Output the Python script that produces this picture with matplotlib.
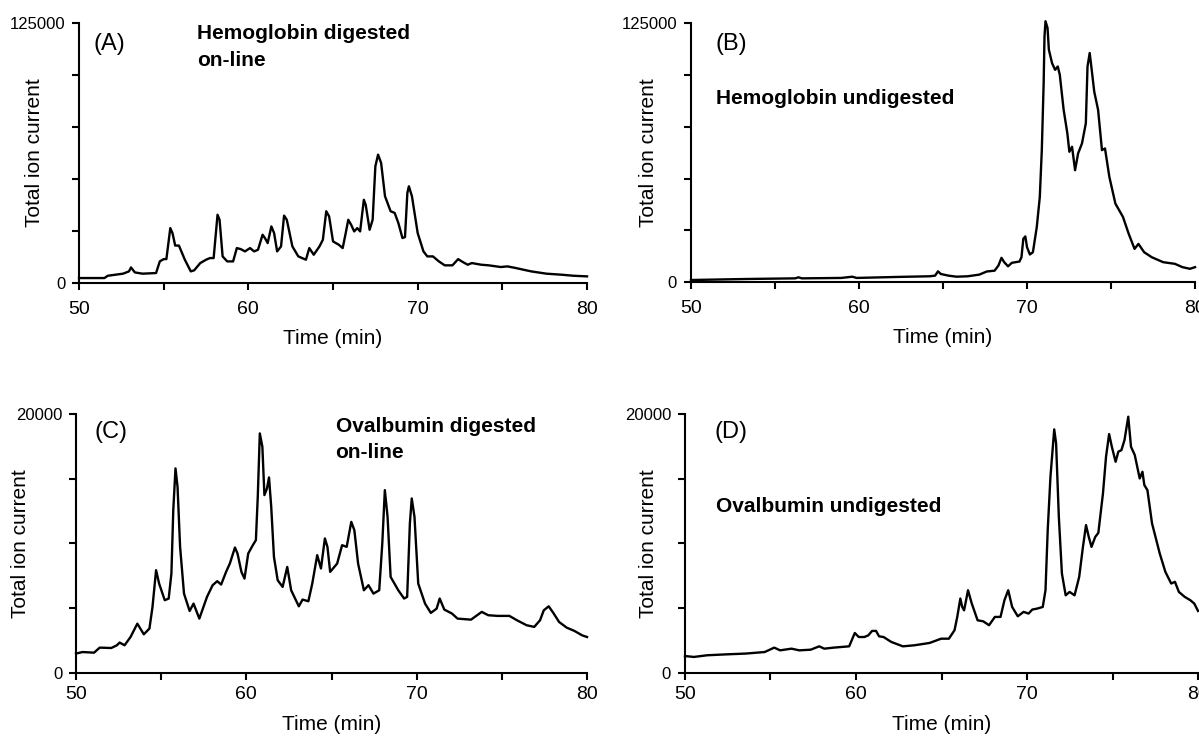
import matplotlib
matplotlib.use("Agg")
import matplotlib.pyplot as plt
from matplotlib.ticker import FixedLocator

plt.rcParams['font.family'] = ['Liberation Sans', 'DejaVu Sans']

# (A) hemoglobin digested on-line
t_a = [50, 51.5, 51.7, 52.6, 52.95, 53.07, 53.3, 53.75, 54.55, 54.77, 55.0, 55.16, 55.39, 55.52,
       55.68, 55.9, 56.25, 56.6, 56.8, 57.16, 57.5, 57.73, 57.95, 58.18, 58.3, 58.48, 58.75, 59.1,
       59.32, 59.55, 59.8, 60.1, 60.34, 60.57, 60.84, 60.98, 61.14, 61.36, 61.52, 61.7, 61.93,
       62.11, 62.27, 62.6, 62.95, 63.4, 63.6, 63.86, 64.2, 64.4, 64.6, 64.77, 65.0, 65.34, 65.57,
       65.75, 65.9, 66.07, 66.25, 66.43, 66.6, 66.82, 66.93, 67.16, 67.34, 67.5, 67.66, 67.84,
       68.07, 68.4, 68.64, 68.86, 69.1, 69.25, 69.39, 69.48, 69.66, 70.0, 70.34, 70.57, 70.9,
       71.25, 71.6, 72.05, 72.39, 72.6, 72.95, 73.2, 73.75, 74.2, 74.9, 75.3, 75.8, 76.7, 77.6,
       78.5, 79.2, 80]
tic_a = [2400, 2400, 3500, 4500, 5600, 7500, 5100, 4500, 4800, 10400, 11500, 11500, 26400, 24000,
         18000, 18000, 11200, 5600, 6100, 9600, 11200, 12000, 12000, 32800, 30400, 12800, 10400, 10400,
         16800, 16300, 15200, 16800, 15200, 16000, 23200, 21600, 19200, 27200, 24000, 15200, 17600,
         32400, 30400, 17600, 12800, 11200, 16800, 13600, 17600, 20800, 34500, 32000, 20000, 18400, 16800,
         24000, 30400, 28000, 24800, 26400, 24800, 40000, 37600, 25600, 30400, 56100, 61700, 57700,
         41700, 34500, 33700, 28800, 21600, 22100, 43300, 46500, 41700, 24000, 15200, 12800, 12800,
         10400, 8500, 8500, 11500, 10400, 8800, 9600, 8800, 8500, 7700, 8000, 7200, 5600, 4500,
         4000, 3500, 3200]

# (B) hemoglobin undigested
t_b = [50, 53.35, 56.2, 56.4, 56.6, 58.95, 59.6, 59.86, 62.37, 64.2, 64.53, 64.7, 64.87, 65.33,
       65.8, 66.47, 67.16, 67.6, 68.07, 68.3, 68.48, 68.64, 68.87, 69.1, 69.55, 69.67, 69.78, 69.9,
       70.0, 70.17, 70.35, 70.58, 70.76, 70.88, 70.99, 71.04, 71.1, 71.22, 71.3, 71.49, 71.67,
       71.83, 71.95, 72.18, 72.4, 72.52, 72.68, 72.86, 73.04, 73.27, 73.5, 73.6, 73.73, 73.85,
       74.0, 74.23, 74.46, 74.64, 74.9, 75.26, 75.71, 76.05, 76.4, 76.63, 76.97, 77.42, 78.1,
       78.8, 79.25, 79.7, 80]
tic_b = [1100, 1600, 1900, 2400, 1900, 2100, 2700, 2100, 2600, 2900, 3200, 5300, 4000, 3200,
         2700, 2900, 3700, 5200, 5600, 8100, 11800, 9700, 7700, 9400, 10000, 12100, 21000, 22100,
         16900, 13400, 14500, 26600, 41100, 63700, 96000, 118500, 125800, 122600, 112100, 105600, 102400,
         104000, 100000, 83100, 71800, 62900, 65300, 54000, 62100, 66900, 76600, 104000, 110500, 102400,
         91900, 83100, 63700, 64500, 50800, 37900, 31500, 23400, 16100, 18500, 14500, 12100, 9700,
         8900, 7300, 6500, 7300]

# (C) ovalbumin digested on-line
t_c = [50, 50.38, 51.06, 51.39, 52.07, 52.4, 52.56, 52.85, 53.2, 53.6, 53.98, 54.31, 54.49, 54.7,
       54.88, 55.21, 55.44, 55.6, 55.71, 55.84, 55.96, 56.11, 56.34, 56.67, 56.9, 57.24, 57.69,
       58.02, 58.29, 58.52, 58.81, 59.03, 59.33, 59.48, 59.71, 59.89, 60.11, 60.38, 60.56, 60.67,
       60.79, 60.94, 61.06, 61.21, 61.33, 61.46, 61.62, 61.84, 62.13, 62.4, 62.63, 63.08, 63.3,
       63.64, 63.87, 64.16, 64.38, 64.61, 64.76, 64.92, 65.33, 65.62, 65.89, 66.16, 66.34, 66.56,
       66.9, 67.17, 67.46, 67.8, 67.98, 68.13, 68.29, 68.47, 68.92, 69.26, 69.44, 69.6, 69.71,
       69.87, 70.09, 70.49, 70.83, 71.17, 71.35, 71.62, 72.07, 72.4, 73.19, 73.82, 74.2, 74.76,
       75.44, 75.89, 76.45, 76.9, 77.24, 77.46, 77.75, 78.02, 78.36, 78.81, 79.26, 79.71, 80]
tic_c = [1500, 1620, 1570, 1960, 1930, 2140, 2350, 2140, 2780, 3810, 2990, 3430, 5100, 7940,
         6900, 5620, 5750, 7680, 12580, 15800, 14380, 9740, 6130, 4790, 5360, 4200, 5880,
         6780, 7090, 6830, 7810, 8450, 9690, 9230, 7810, 7290, 9230, 9870, 10260, 13610,
         18500, 17470, 13740, 14250, 15100, 12830, 8970, 7160, 6650, 8190, 6390, 5150, 5670,
         5540, 6910, 9100, 8070, 10390, 9740, 7810, 8450, 9870, 9740, 11670, 11030, 8450,
         6390, 6780, 6130, 6390, 10000, 14120, 12060, 7420, 6390, 5750, 5880, 11550, 13480,
         12060, 6910, 5360, 4640, 4970, 5750, 4900, 4590, 4200, 4120, 4720, 4460, 4410,
         4410, 4070, 3690, 3560, 4070, 4840, 5150, 4640, 3940, 3500, 3250, 2910, 2780]

# (D) ovalbumin undigested
t_d = [50, 50.52, 51.3, 52.42, 53.54, 54.66, 55.22, 55.56, 56.23, 56.68, 57.35, 57.85, 58.14,
       58.7, 59.6, 59.93, 60.16, 60.49, 60.72, 60.94, 61.17, 61.35, 61.61, 62.06, 62.74, 63.41,
       64.3, 64.98, 65.43, 65.76, 65.92, 66.1, 66.21, 66.32, 66.55, 66.77, 67.11, 67.44, 67.78,
       68.12, 68.45, 68.68, 68.9, 69.13, 69.46, 69.8, 70.09, 70.31, 70.58, 70.92, 71.08, 71.21,
       71.37, 71.59, 71.7, 71.86, 72.04, 72.26, 72.49, 72.78, 73.05, 73.27, 73.45, 73.61, 73.77,
       73.99, 74.17, 74.44, 74.62, 74.8, 74.96, 75.18, 75.34, 75.52, 75.7, 75.92, 76.08, 76.3,
       76.59, 76.75, 76.86, 77.04, 77.31, 77.76, 78.09, 78.43, 78.65, 78.88, 79.22, 79.55, 79.78, 80]
tic_d = [1310, 1240, 1370, 1440, 1500, 1620, 1960, 1750, 1880, 1750, 1800, 2060, 1880,
         1960, 2060, 3090, 2780, 2780, 2910, 3250, 3250, 2830, 2780, 2400, 2060, 2140,
         2320, 2650, 2650, 3300, 4330, 5750, 5100, 4840, 6390, 5360, 4070, 3990, 3690,
         4330, 4330, 5620, 6390, 5100, 4380, 4720, 4590, 4900, 4970, 5100, 6390, 11030,
         15150, 18810, 17730, 12060, 7680, 6000, 6260, 6000, 7420, 9740, 11420, 10510, 9740,
         10510, 10820, 13860, 16700, 18450, 17470, 16310, 17090, 17210, 17990, 19790, 17470, 16830,
         15020, 15540, 14510, 14120, 11550, 9230, 7810, 6910, 7040, 6260, 5880, 5620, 5360, 4790]

panels = [
    ("(A)", "Hemoglobin digested\non-line", t_a, tic_a, 125000, 25000),
    ("(B)", "Hemoglobin undigested", t_b, tic_b, 125000, 25000),
    ("(C)", "Ovalbumin digested\non-line", t_c, tic_c, 20000, 5000),
    ("(D)", "Ovalbumin undigested", t_d, tic_d, 20000, 5000),
]

# axes boxes in figure fractions
boxes = [
    [0.0659, 0.617, 0.4237, 0.352],
    [0.5763, 0.618, 0.4204, 0.351],
    [0.0634, 0.0893, 0.4262, 0.3505],
    [0.5713, 0.0893, 0.4279, 0.3505],
]
# where the panel letter and the note sit (axes fractions)
letter_pos = [(0.028, 0.92), (0.048, 0.92), (0.036, 0.93), (0.058, 0.93)]
note_pos = [(0.232, 0.995), (0.05, 0.745), (0.508, 0.99), (0.06, 0.68)]
ylab_x = [-0.069, -0.065, -0.09, -0.053]
xtick_pad = [8, 8, 4, 4]
xlab_pad = [8, 8, 9, 9]

fig = plt.figure(figsize=(11.99, 7.39), dpi=100)

for i, (letter, note, t, tic, ymax, ystep) in enumerate(panels):
    ax = fig.add_axes(boxes[i])
    ax.plot(t, tic, color='black', lw=1.7, clip_on=False)
    ax.set_xlim(50, 80)
    ax.set_ylim(0, ymax)
    for s in ['top', 'right']:
        ax.spines[s].set_visible(False)
    for s in ['left', 'bottom']:
        ax.spines[s].set_linewidth(1.5)
    ax.set_xticks([50, 60, 70, 80])
    ax.xaxis.set_minor_locator(FixedLocator([55, 65, 75]))
    yt = list(range(0, ymax + 1, ystep))
    ax.set_yticks(yt)
    ax.set_yticklabels([str(v) if v in (0, ymax) else "" for v in yt])
    ax.tick_params(axis='x', which='both', direction='out', length=5, width=1.5,
                   labelsize=14, pad=xtick_pad[i])
    ax.tick_params(axis='y', direction='out', length=5, width=1.5, labelsize=12, pad=5)
    ax.set_xlabel("Time (min)", fontsize=15, labelpad=xlab_pad[i])
    ax.set_ylabel("Total ion current", fontsize=15)
    ax.yaxis.set_label_coords(ylab_x[i], 0.5)
    ax.text(letter_pos[i][0], letter_pos[i][1], letter, transform=ax.transAxes,
            fontsize=17, va='center', ha='left')
    ax.text(note_pos[i][0], note_pos[i][1], note, transform=ax.transAxes,
            fontsize=15, fontweight='bold', va='top', ha='left', linespacing=1.5)

fig.savefig("out.png", dpi=100)
